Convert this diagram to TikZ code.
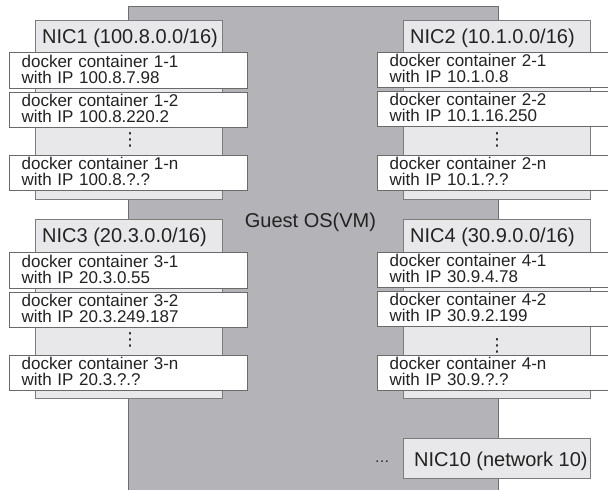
\documentclass[tikz,border=0pt]{standalone}
\usepackage{fontspec}
\setmainfont{Liberation Sans}
\newfontfamily\symfont{DejaVu Sans}
\definecolor{ink}{HTML}{222222}
\definecolor{vmfill}{HTML}{B4B4B8}
\definecolor{vmline}{HTML}{6E6E6E}
\definecolor{nicfill}{HTML}{E8E8EA}
\definecolor{nicline}{HTML}{7C7C7C}
\definecolor{ctrline}{HTML}{6A6A6A}
% struts for the two lines of a container label
\newcommand\topstrut{\rule{0pt}{14pt}}
\begin{document}
\begin{tikzpicture}[x=1pt,y=-1pt,
  vm/.style={draw=vmline, fill=vmfill, line width=1.2pt, anchor=north west, inner sep=0pt},
  nicbox/.style={draw=nicline, fill=nicfill, line width=1.2pt, anchor=north west, inner sep=0pt, minimum width=187pt},
  title/.style={anchor=base west, inner sep=0pt, text=ink, font=\fontsize{20}{24}\selectfont},
  ctr/.style={draw=ctrline, fill=white, line width=1.2pt, anchor=north west, align=left,
    inner xsep=12pt, inner ysep=0pt, text=ink, font=\fontsize{17}{16}\selectfont},
  ctrL/.style={ctr, text width=214pt},
  ctrR/.style={ctr, text width=213pt},
  vdots/.style={inner sep=0pt, text=ink, font=\symfont\fontsize{18}{18}\selectfont},
]
\useasboundingbox (0,0) rectangle (608,490);
\clip (0,0) rectangle (608,490);

% guest operating system
\node[vm, minimum width=370pt, minimum height=500pt] (vm) at (128,6) {};
\node[anchor=base, inner sep=0pt, text=ink, font=\fontsize{20}{24}\selectfont] (vmt) at (310.5,227) {Guest OS(VM)};

% network interface cards
\node[nicbox, minimum height=179pt] (nic1) at (35,20) {};
\node[nicbox, minimum height=179pt] (nic2) at (403,20) {};
\node[nicbox, minimum height=179pt] (nic3) at (35,219) {};
\node[nicbox, minimum height=179pt] (nic4) at (403,219) {};
\node[nicbox, minimum height=40pt] (nic10) at (403,438) {};

\node[title] (nic1t) at (42,43) {NIC1 (100.8.0.0/16)};
\node[title] (nic2t) at (410,43) {NIC2 (10.1.0.0/16)};
\node[title] (nic3t) at (42,242) {NIC3 (20.3.0.0/16)};
\node[title] (nic4t) at (410,242) {NIC4 (30.9.0.0/16)};
\node[title] (nic10t) at (414,466) {NIC10 (network 10)};
\node[anchor=base, inner sep=0pt, text=ink, font=\fontsize{15}{15}\selectfont] (more) at (382,462) {…};

% containers on NIC1
\node[ctrL, minimum height=36pt] (c11) at (9,52) {\topstrut docker container 1-1\\\strut with IP 100.8.7.98};
\node[ctrL, minimum height=34pt] (c12) at (9,92) {\topstrut docker container 1-2\\\strut with IP 100.8.220.2};
\node[vdots] (d1) at (130,140) {⋮};
\node[ctrL, minimum height=34pt] (c1n) at (9,155) {\topstrut docker container 1-n\\\strut with IP 100.8.?.?};

% containers on NIC2
\node[ctrR, minimum height=34pt] (c21) at (377,52) {\topstrut docker container 2-1\\\strut with IP 10.1.0.8};
\node[ctrR, minimum height=34pt] (c22) at (377,91) {\topstrut docker container 2-2\\\strut with IP 10.1.16.250};
\node[vdots] (d2) at (497,140) {⋮};
\node[ctrR, minimum height=34pt] (c2n) at (377,155) {\topstrut docker container 2-n\\\strut with IP 10.1.?.?};

% containers on NIC3
\node[ctrL, minimum height=36pt] (c31) at (9,252) {\topstrut docker container 3-1\\\strut with IP 20.3.0.55};
\node[ctrL, minimum height=34pt] (c32) at (9,292) {\topstrut docker container 3-2\\\strut with IP 20.3.249.187};
\node[vdots] (d3) at (130,340) {⋮};
\node[ctrL, minimum height=34pt] (c3n) at (9,355) {\topstrut docker container 3-n\\\strut with IP 20.3.?.?};

% containers on NIC4
\node[ctrR, minimum height=33pt] (c41) at (377,252) {\topstrut docker container 4-1\\\strut with IP 30.9.4.78};
\node[ctrR, minimum height=34pt] (c42) at (377,291) {\topstrut docker container 4-2\\\strut with IP 30.9.2.199};
\node[vdots] (d4) at (497,346) {⋮};
\node[ctrR, minimum height=32pt] (c4n) at (377,355) {\topstrut docker container 4-n\\\strut with IP 30.9.?.?};
\end{tikzpicture}
\end{document}
